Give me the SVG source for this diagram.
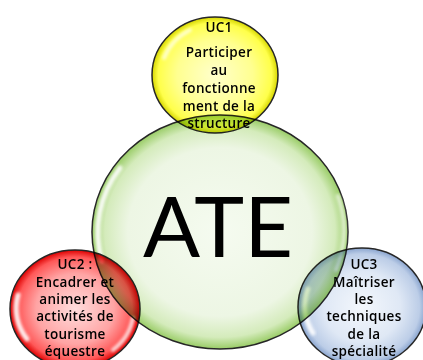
<svg xmlns="http://www.w3.org/2000/svg" width="423" height="360" viewBox="0 0 423 360">
<style>
.bub{stroke:#262626;stroke-width:1.5}
.sm{mix-blend-mode:multiply}
.hl{fill:none;stroke:#ffffff;stroke-linecap:round;filter:url(#blur)}
.t{font-family:"Open Sans","Liberation Sans",sans-serif;font-size:13.5px;font-weight:600;letter-spacing:0.3px;fill:#000;text-anchor:middle}
.big{font-family:Lato,"Liberation Sans",sans-serif;font-size:84px;fill:#000;text-anchor:middle}
</style>
<defs>
<filter id="blur" x="-50%" y="-50%" width="200%" height="200%"><feGaussianBlur stdDeviation="1.6"/></filter>
<radialGradient id="gG" cx="50%" cy="50%" r="50%">
<stop offset="0" stop-color="#f5fbf0"/>
<stop offset="0.72" stop-color="#edf6e4"/>
<stop offset="0.9" stop-color="#d4ebbb"/>
<stop offset="1" stop-color="#99cc66"/>
</radialGradient>
<radialGradient id="gY" cx="50%" cy="50%" r="50%">
<stop offset="0" stop-color="#ffffcc"/>
<stop offset="0.6" stop-color="#ffff90"/>
<stop offset="0.9" stop-color="#ffff4a"/>
<stop offset="1" stop-color="#d6d600"/>
</radialGradient>
<radialGradient id="gR" cx="50%" cy="50%" r="50%">
<stop offset="0" stop-color="#ffdcdc"/>
<stop offset="0.6" stop-color="#ffa4a4"/>
<stop offset="0.88" stop-color="#ff5858"/>
<stop offset="1" stop-color="#dd0000"/>
</radialGradient>
<radialGradient id="gB" cx="50%" cy="50%" r="50%">
<stop offset="0" stop-color="#f3f7fc"/>
<stop offset="0.6" stop-color="#dfe8f5"/>
<stop offset="0.9" stop-color="#bccde7"/>
<stop offset="1" stop-color="#8aa5cf"/>
</radialGradient>
</defs>
<rect width="423" height="360" fill="#ffffff"/>
<g id="connectors"/>
<g id="node-ate">
<ellipse class="bub" cx="220" cy="232" rx="128" ry="117" fill="url(#gG)"/>
<path class="hl" d="M 120 168 A 122 111 0 0 0 102 261" stroke-width="5" opacity="0.9"/>
<path class="hl" d="M 338 196 A 122 111 0 0 1 336 270" stroke-width="4" opacity="0.6"/>
<text class="big" x="218" y="257" textLength="150" lengthAdjust="spacingAndGlyphs">ATE</text>
</g>
<g id="node-uc1">
<g class="sm">
<ellipse class="bub" cx="215" cy="75" rx="63" ry="58" fill="url(#gY)"/>
<path class="hl" d="M 164 58 A 57 52 0 0 1 190 30" stroke-width="4" opacity="0.7"/>
</g>
<text class="t" x="219" y="32">UC1</text>
<text class="t" x="219" y="57">Participer</text>
<text class="t" x="219" y="75">au</text>
<text class="t" x="219" y="93">fonctionne</text>
<text class="t" x="219" y="110.5">ment de la</text>
<text class="t" x="219" y="128">structure</text>
</g>
<g id="node-uc2">
<g class="sm">
<ellipse class="bub" cx="75" cy="309" rx="65" ry="59" fill="url(#gR)"/>
<path class="hl" d="M 18 295 A 59 53 0 0 0 27 339" stroke-width="5" opacity="0.9"/>
<path class="hl" d="M 133 318 A 59 53 0 0 1 113 350" stroke-width="4" opacity="0.8"/>
</g>
<text class="t" x="75" y="269">UC2 :</text>
<text class="t" x="75" y="287">Encadrer et</text>
<text class="t" x="75" y="304">animer les</text>
<text class="t" x="75" y="321">activités de</text>
<text class="t" x="75" y="338.5">tourisme</text>
<text class="t" x="75" y="356">équestre</text>
</g>
<g id="node-uc3">
<g class="sm">
<ellipse class="bub" cx="362" cy="307" rx="64" ry="59" fill="url(#gB)"/>
<path class="hl" d="M 308 289 A 57 53 0 0 0 313 333" stroke-width="5" opacity="0.9"/>
</g>
<text class="t" x="364" y="269">UC3</text>
<text class="t" x="364" y="287">Maîtriser</text>
<text class="t" x="364" y="304">les</text>
<text class="t" x="364" y="321">techniques</text>
<text class="t" x="364" y="338.5">de la</text>
<text class="t" x="364" y="356">spécialité</text>
</g>
</svg>
